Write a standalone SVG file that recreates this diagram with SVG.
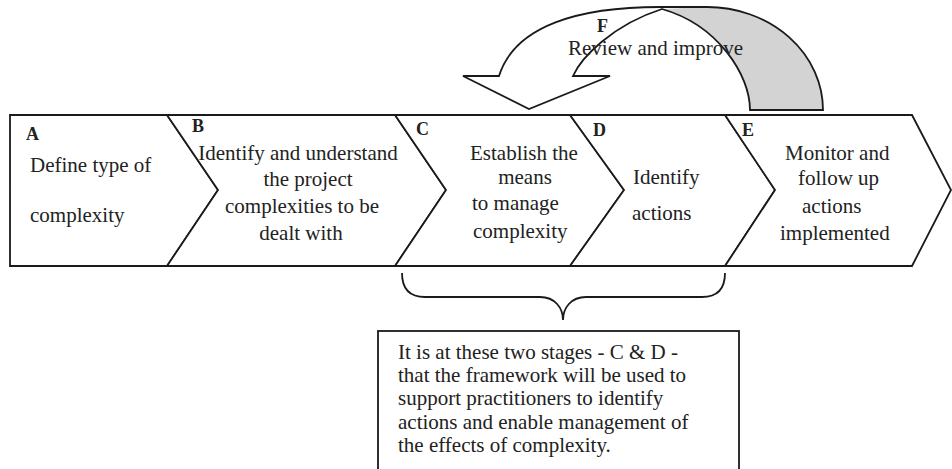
<svg xmlns="http://www.w3.org/2000/svg" width="952" height="469" viewBox="0 0 952 469">
<style>
.sh{fill:#fff;stroke:#1a1a1a;stroke-width:1.8;stroke-linejoin:miter}
.ln{fill:none;stroke:#1a1a1a;stroke-width:1.8}
.t{font-family:"Liberation Serif","Times New Roman",serif;font-size:21px;fill:#222}
.b{font-family:"Liberation Serif","Times New Roman",serif;font-size:18px;font-weight:bold;fill:#222}
.m{text-anchor:middle}
</style>
<rect width="952" height="469" fill="#fff"/>
<g id="stageA">
<polygon class="sh" points="10,115 167,115 218,190 167,266 10,266"/>
<text class="b" x="26" y="140">A</text>
<text class="t" x="30" y="172">Define type of</text>
<text class="t" x="30" y="222">complexity</text>
</g>
<g id="stageB">
<polygon class="sh" points="167,115 395,115 446,190 395,266 167,266 218,190"/>
<text class="b" x="192" y="132">B</text>
<text class="t m" x="298" y="160">Identify and understand</text>
<text class="t m" x="308" y="186">the project</text>
<text class="t m" x="302" y="213">complexities to be</text>
<text class="t m" x="301" y="240">dealt with</text>
</g>
<g id="stageC">
<polygon class="sh" points="395,115 570,115 624,190 570,266 395,266 446,190"/>
<text class="b" x="416" y="135">C</text>
<text class="t" x="470" y="160">Establish the</text>
<text class="t m" x="525" y="184">means</text>
<text class="t" x="472" y="210">to manage</text>
<text class="t" x="473" y="238">complexity</text>
</g>
<g id="stageD">
<polygon class="sh" points="570,115 725,115 775,190 725,266 570,266 624,190"/>
<text class="b" x="593" y="136">D</text>
<text class="t" x="633" y="184">Identify</text>
<text class="t" x="632" y="220">actions</text>
</g>
<g id="stageE">
<polygon class="sh" points="725,115 912,115 951,190 912,266 725,266 775,190"/>
<text class="b" x="742" y="136">E</text>
<text class="t" x="785" y="160">Monitor and</text>
<text class="t" x="798" y="185">follow up</text>
<text class="t" x="802" y="213">actions</text>
<text class="t" x="780" y="240">implemented</text>
</g>
<g id="stageF">
<path d="M662,9 L707,7 A116,103 0 0 1 823,110 L750,110 C750,75 718,25 662,9 Z" fill="#d3d3d3"/>
<path class="ln" d="M463,76 L499,76 C515,25 580,7 660,7 L707,7 A116,103 0 0 1 823,110 L750,110 C750,75 718,25 662,9 C612,25 581,58 573,76 L610,76 L529,109 Z"/>
<text class="b" x="597" y="32">F</text>
<text class="t" x="568" y="55">Review and improve</text>
</g>
<g id="connectors">
<path class="ln" d="M402,273 C402,290 410,297 425,297 L540,297 C555,297 563,308 563,320 C563,308 571,297 586,297 L702,297 C717,297 725,290 725,273"/>
</g>
<g id="note">
<rect class="sh" x="378" y="331" width="361" height="150"/>
<text class="t" x="398" y="359">It is at these two stages - C &amp; D -</text>
<text class="t" x="398" y="382">that the framework will be used to</text>
<text class="t" x="398" y="405">support practitioners to identify</text>
<text class="t" x="398" y="429">actions and enable management of</text>
<text class="t" x="398" y="452">the effects of complexity.</text>
</g>
</svg>
